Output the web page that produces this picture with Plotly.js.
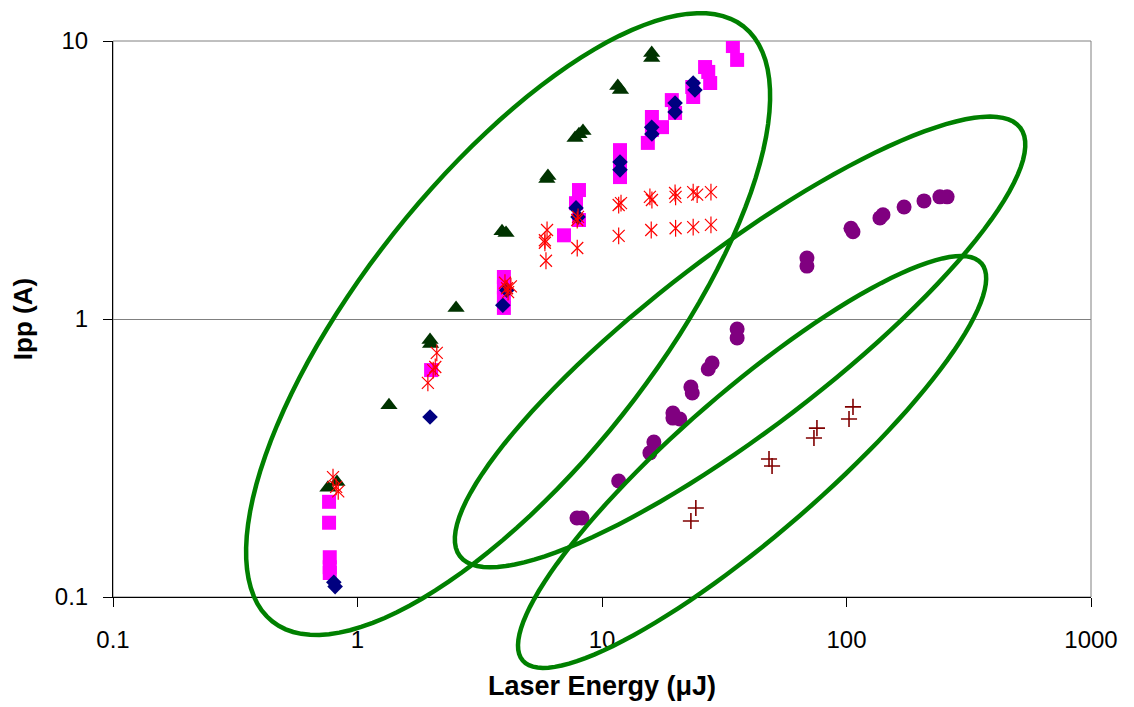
<!DOCTYPE html>
<html>
<head>
<meta charset="utf-8">
<script src="https://cdn.plot.ly/plotly-3.0.1.min.js"></script>
<style>html,body{margin:0;padding:0;background:#fff;}#chart{width:1134px;height:707px;}</style>
</head>
<body>
<div id="chart"></div>
<script>
// ---- data ----
const diamondX = [0.80, 0.81, 1.98, 3.93, 4.08, 7.83, 7.98, 11.85, 11.85, 15.97, 16.0, 19.9, 19.9, 23.6, 24.0];
const diamondY = [0.113, 0.109, 0.444, 1.12, 1.27, 2.51, 2.33, 3.67, 3.44, 4.89, 4.63, 5.98, 5.55, 7.06, 6.66];

const squareX = [0.765, 0.765, 0.77, 0.77, 0.77, 2.0, 3.97, 3.97, 3.97, 3.97, 6.99, 8.05, 7.83, 8.05,
                 11.85, 11.85, 11.85, 11.85, 16.0, 16.0, 15.4, 17.6, 19.3, 19.9, 23.6, 23.4, 26.4, 27.7, 27.2, 34.3, 35.7];
const squareY = [0.220, 0.185, 0.139, 0.128, 0.122, 0.655, 1.416, 1.30, 1.19, 1.096, 2.0, 2.91, 2.61, 2.27,
                 4.05, 3.73, 3.44, 3.24, 5.33, 4.79, 4.30, 4.90, 6.13, 5.51, 6.29, 6.83, 8.06, 7.06, 7.74, 9.59, 8.55];

const triangleX = [0.757, 0.824, 1.345, 1.98, 1.99, 2.53, 3.90, 4.05, 6.01, 5.95, 7.76, 8.05, 8.36, 11.6, 11.9, 15.97, 15.97];
const triangleY = [0.247, 0.259, 0.49, 0.84, 0.813, 1.096, 2.07, 2.04, 3.27, 3.19, 4.48, 4.62, 4.75, 6.89, 6.66, 9.05, 8.69];

const starX = [0.794, 0.818, 0.834, 1.94, 2.04, 2.08, 2.11, 4.01, 4.09, 4.13, 4.24, 5.96, 5.84, 5.84, 5.90,
               7.98, 7.92, 7.92, 11.96, 11.7, 11.7, 15.7, 16.0, 15.9, 19.9, 20.0, 20.0, 23.6, 24.5, 23.6, 27.9, 27.9];
const starY = [0.270, 0.249, 0.240, 0.589, 0.655, 0.672, 0.755, 1.35, 1.29, 1.25, 1.31, 2.09, 1.92, 1.88, 1.62,
               2.33, 2.27, 1.80, 2.61, 2.57, 1.99, 2.75, 2.68, 2.09, 2.84, 2.75, 2.12, 2.86, 2.80, 2.14, 2.86, 2.18];

const circleX = [7.9, 8.28, 11.7, 15.7, 16.3, 19.5, 20.8, 19.5, 23.1, 23.4, 27.2, 28.2, 35.7, 35.7,
                 68.9, 68.9, 104.3, 106.3, 141, 137, 172, 207.5, 241, 258];
const circleY = [0.1925, 0.1925, 0.2615, 0.33, 0.361, 0.459, 0.437, 0.44, 0.569, 0.542, 0.661, 0.695, 0.921, 0.855,
                 1.657, 1.55, 2.12, 2.06, 2.37, 2.31, 2.53, 2.66, 2.75, 2.75];

const crossX = [24.2, 23.1, 48.2, 49.6, 75.7, 73.6, 106.3, 102.4];
const crossY = [0.209, 0.1877, 0.3135, 0.296, 0.405, 0.373, 0.483, 0.437];

const xTickVals = [0.1, 1, 10, 100, 1000];
const xTickText = ['0.1', '1', '10', '100', '1000'];
const yTickVals = [0.1, 1, 10];
const yTickText = ['0.1', '1', '10'];

// ---- layout geometry ----
const M = {l: 113, r: 43, t: 41, b: 110};
const W = 1134 - M.l - M.r, H = 707 - M.t - M.b;
const xLogRange = [-1, 3], yLogRange = [-1, 1];

// ellipses: centre in data units, semi-axes in px, angle in degrees (counter-clockwise)
const ellipses = [
  {cx: 4.13, cy: 0.959, a: 379.5, b: 146, ang: 51.6},
  {cx: 36.7, cy: 0.827, a: 352.7, b: 88, ang: 37.4},
  {cx: 41.1, cy: 0.306, a: 303.4, b: 71.8, ang: 40.9}
];

function ellipsePath(e) {
  const px = (Math.log10(e.cx) - xLogRange[0]) / (xLogRange[1] - xLogRange[0]);
  const py = (Math.log10(e.cy) - yLogRange[0]) / (yLogRange[1] - yLogRange[0]);
  const t = e.ang * Math.PI / 180;
  let d = '';
  const n = 120;
  for (let i = 0; i <= n; i++) {
    const s = 2 * Math.PI * i / n;
    const u = e.a * Math.cos(s), v = e.b * Math.sin(s);
    const dx = u * Math.cos(t) - v * Math.sin(t);
    const dy = u * Math.sin(t) + v * Math.cos(t);
    const X = px + dx / W, Y = py + dy / H;
    d += (i === 0 ? 'M' : 'L') + X.toFixed(5) + ',' + Y.toFixed(5);
  }
  return d + 'Z';
}

const shapes = [
  {type: 'rect', xref: 'paper', yref: 'paper', x0: 0, y0: 0, x1: 1, y1: 1,
   line: {color: '#808080', width: 1}, layer: 'below'}
].concat(ellipses.map(e => ({
  type: 'path', xref: 'paper', yref: 'paper', path: ellipsePath(e),
  line: {color: '#008000', width: 4.5}, layer: 'above'
})));

const traces = [
  {x: squareX, y: squareY, type: 'scatter', mode: 'markers',
   marker: {symbol: 'square', size: 14, color: '#FF00FF'}},
  {x: diamondX, y: diamondY, type: 'scatter', mode: 'markers',
   marker: {symbol: 'diamond', size: 12, color: '#000080'}},
  {x: triangleX, y: triangleY, type: 'scatter', mode: 'markers',
   marker: {symbol: 'triangle-up', size: 15, color: '#003300'}},
  {x: starX, y: starY, type: 'scatter', mode: 'markers',
   marker: {symbol: 'x-thin-open', size: 12, color: '#FF0000', line: {color: '#FF0000', width: 1.2}}},
  {x: starX, y: starY, type: 'scatter', mode: 'markers',
   marker: {symbol: 'line-ns-open', size: 12, color: '#FF0000', line: {color: '#FF0000', width: 1.2}}},
  {x: circleX, y: circleY, type: 'scatter', mode: 'markers',
   marker: {symbol: 'circle', size: 15, color: '#800080'}},
  {x: crossX, y: crossY, type: 'scatter', mode: 'markers',
   marker: {symbol: 'cross-thin-open', size: 11.5, color: '#800000', line: {color: '#800000', width: 1.6}}}
];

const layout = {
  width: 1134, height: 707,
  margin: M,
  paper_bgcolor: '#ffffff', plot_bgcolor: '#ffffff',
  showlegend: false,
  font: {family: 'Liberation Sans, Arial, sans-serif', color: '#000000'},
  xaxis: {
    type: 'log', range: xLogRange, tickvals: xTickVals, ticktext: xTickText,
    ticks: 'outside', ticklen: 9, tickcolor: '#000000', tickwidth: 1,
    showline: true, linecolor: '#000000', linewidth: 1, showgrid: false, zeroline: false,
    tickfont: {size: 24}, ticklabelstandoff: 12,
    title: {text: '<b>Laser Energy (μJ)</b>', font: {size: 27}, standoff: 24}
  },
  yaxis: {
    type: 'log', range: yLogRange, tickvals: yTickVals, ticktext: yTickText,
    ticks: 'outside', ticklen: 9, tickcolor: '#000000', tickwidth: 1,
    showline: true, linecolor: '#000000', linewidth: 1,
    showgrid: true, gridcolor: '#808080', gridwidth: 1, zeroline: false,
    tickfont: {size: 24}, ticklabelstandoff: 10,
    title: {text: '<b>Ipp (A)</b>', font: {size: 26}, standoff: 14}
  },
  shapes: shapes
};

Plotly.newPlot('chart', traces, layout, {displayModeBar: false, staticPlot: true});
</script>
</body>
</html>
